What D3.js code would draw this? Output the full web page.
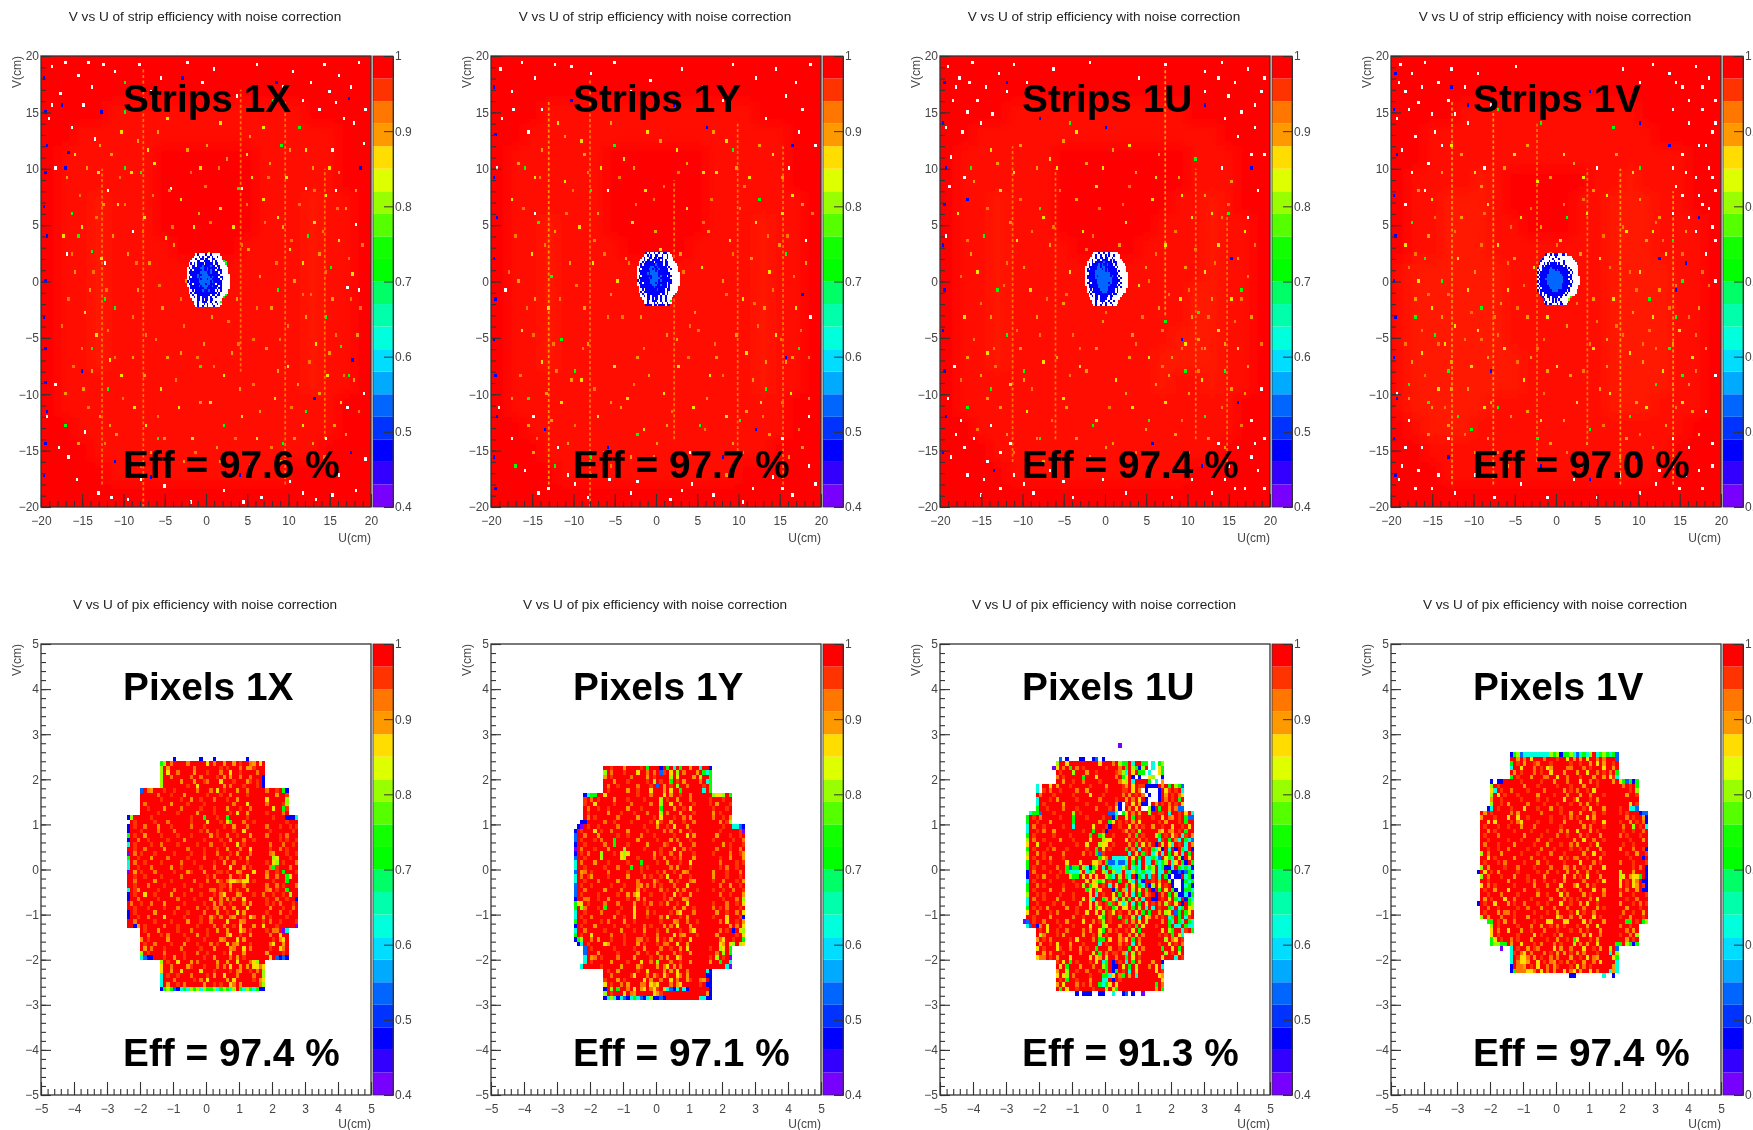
<html>
<head>
<meta charset="utf-8">
<style>
body { margin: 0; background: #fff; overflow: hidden; }
svg { display: block; filter: blur(0.55px); }
text { font-family: "Liberation Sans", Arial, sans-serif; }
</style>
</head>
<body>
<script src="https://d3js.org/d3.v7.min.js"></script>
<script>

// colour bar bands, lowest (0.4) to highest (1.0)
var paletteColours = ["#7700ff","#3300ff","#0000ff","#0033ff","#0066ff","#00aaff","#00ddff","#00ffdd","#00ffaa","#00ff66",
    "#00ff00","#11ff00","#55ff00","#99ff00","#ddff00","#ffdd00","#ff9900","#ff7700","#ff3300","#ff0000"];
var barTicks = [0.4, 0.5, 0.6, 0.7, 0.8, 0.9, 1];

// efficiency read for each map letter
var cellValues = {".": 0.985, r: 0.955, o: 0.925, a: 0.895, y: 0.865, l: 0.81, g: 0.72, c: 0.62, s: 0.53, b: 0.47, v: 0.41};

var panelLefts = [41, 491, 940, 1391];
var stripNames = ["Strips 1X", "Strips 1Y", "Strips 1U", "Strips 1V"];
var stripEffs = ["Eff = 97.6 %", "Eff = 97.7 %", "Eff = 97.4 %", "Eff = 97.0 %"];
var pixelNames = ["Pixels 1X", "Pixels 1Y", "Pixels 1U", "Pixels 1V"];
var pixelEffs = ["Eff = 97.4 %", "Eff = 97.1 %", "Eff = 91.3 %", "Eff = 97.4 %"];

// coarse mean level of the strip maps, 2 cm squares, top row is V = 18..20
var zones1X = ["00000000000000000000","00000000000000000000","00001111111111110000","00111111111111111100","01111110000001111100","01111110000001111100","01121110000001112110","01121110000001112110","01121111000011112110","01121111111111112110",
    "01121111111111112110","01121111111111112110","01121111111111112110","01121111111111112110","01111111111111112110","01111111111111111100","00111111111111111100","00011111111111111000","00001111111111100000","00000000000000000000"];
var zones1Y = ["00000000000000000000","00000000000000000000","00011111111111110000","00111111111111111100","01111110000001111100","01111110000001111100","01111110000001111110","01121110000001112110","01121111000011112110","01121111111111112110",
    "01121111111111112110","01121111111111112110","01121111111111112110","01121111111111112110","01111111111111112110","01111111111111111100","00111111111111111100","00011111111111111000","00001111111111100000","00000000000000000000"];
var zones1U = ["00000000000000000000","00000000000000000000","00001111111111100000","00111111111111111000","01111110000000011100","01111110000000011100","01121110000000112100","01121110000001112110","01121111000011112110","01121111111111112110",
    "01121111111111122110","01121111111111122110","01121111111111222110","01121111111112222110","01111111111112112110","01111111111111111100","00111111111111111100","00011111111111111000","00001111111111100000","00000000000000000000"];
var zones1V = ["00000000000000000000","00000000000000000000","00001111111111100000","00111111111111110000","00111111111111111100","01111210000011211100","01122210000112221100","01122211000112221110","01122211111112221110","12222221111112222110",
    "12222221111112222110","12222221111112222110","12222221111112222110","12222222111112222110","12222222111112222110","12222211111112221110","01222111111111111100","00111111111111111000","00011111111111110000","00000000000000000000"];

// faulty-looking strip columns: U, V from, V to, letter
var streaks1X = [[-7.6,-20,19,"o"],[4.2,-8,17,"o"],[9.6,-18,16,"o"],[-12.6,-18,10,"o"],[14.4,-14,10,"o"]];
var streaks1Y = [[-13,-18,16,"a"],[-8,-20,18,"o"],[9.9,-16,14,"o"],[15.4,-18,12,"o"],[2.2,-14,9,"o"]];
var streaks1U = [[7.3,-3,19,"a"],[-11.2,-16,12,"o"],[-6,-14,10,"o"],[11,-14,10,"o"],[14.8,-16,6,"o"]];
var streaks1V = [[-12.6,-18,16,"a"],[-7.6,-18,16,"a"],[-2.3,-16,14,"o"],[3.8,-14,10,"o"],[7.8,-18,10,"a"],[14.2,-18,8,"a"]];

// isolated strip bins seen on the maps: letter + column (0-199) , row from the bottom (0-199)
var specks1X = "w6,195 w14,197 w22,191 w30,186 w11,183 w25,178 w44,193 w59,196 w72,190 w97,188 w104,194 w118,182 w130,196 w152,193 w163,188 w171,196 w180,191 w187,186 w192,197 w178,179 w168,176 w4,172 w18,168 w32,163 w189,170 w195,161 w176,158 w8,150 w40,140 w78,141 w121,141 w160,141 w178,140 w55,122 w190,125 w192,96 w185,97 w38,108 w15,112 w3,40 w10,26 w21,12 w34,6 w52,3 w74,9 w90,2 w110,7 w133,4 w150,11 w166,3 w180,14 w190,7 w196,21 w172,30 w26,33 w8,54 w195,50 w185,44 " +
    "b1,190 b2,175 b3,160 b2,148 b1,133 b3,120 b2,100 b1,84 b2,70 b2,55 b3,42 b2,28 b1,14 b16,157 b14,150 b12,178 b36,175 b85,190 b142,188 b186,181 b193,150 b188,65 b165,48 b24,60 b44,20 b66,13 b120,14 b187,24 " +
    "g18,130 g22,120 g30,113 g38,92 g44,88 g50,150 g50,175 g50,188 g60,148 g119,141 g140,180 g145,160 g156,168 g161,120 g175,106 g172,84 g181,71 g30,70 g40,52 g14,36 g70,30 g110,36 g146,28 g160,42 g186,58 g96,62 g143,96 " +
    "y13,120 y24,124 y36,110 y46,134 y54,148 y62,128 y68,152 y75,119 y84,136 y92,124 y101,112 y108,132 y116,124 y127,146 y134,136 y143,128 y150,114 y158,108 y165,126 y172,138 y180,118 y188,103 y26,86 y33,76 y41,65 y48,58 y56,44 y63,36 y72,52 y83,44 y91,30 y102,46 y110,58 y121,40 y130,30 y141,48 y149,62 y158,36 y166,72 y173,58 y181,46 " +
    "a20,104 a29,96 a37,134 a43,120 a52,112 a58,96 a65,108 a73,88 a80,116 a87,100 a95,130 a103,84 a111,108 a118,92 a125,114 a132,102 a139,88 a146,124 a153,100 a160,84 a168,112 a176,92 a184,132 a191,76 a25,52 a35,40 a45,32 a55,66 a66,24 a76,66 a86,20 a98,72 a106,26 a115,68 a126,18 a136,70 a145,20 a155,54 a164,28 a174,68 a184,32 " +
    "o16,92 o23,138 o31,104 o40,78 o47,146 o55,84 o61,122 o69,74 o77,140 o84,92 o91,108 o99,142 o105,96 o113,82 o121,116 o128,74 o135,126 o142,108 o149,80 o156,134 o163,94 o170,122 o178,76 o186,110 o193,88 o19,62 o28,44 o38,28 o49,48 o60,18 o70,40 o81,56 o93,24 o104,62 o117,30 o128,54 o139,26 o151,44 o162,64 o171,22 o183,58 o192,42 w28,197 w88,197 w146,186 w174,184 w6,178 w37,196 w66,184 w158,180 w183,172 w196,176 w16,22 w42,4 w60,12 w122,2 w158,6 w176,5 " +
    "o12,80 o18,112 o24,70 o33,128 o39,96 o44,66 o50,134 o57,108 o63,76 o67,138 o71,98 o79,124 o86,80 o90,148 o94,66 o102,126 o107,150 o112,100 o119,72 o124,134 o130,88 o137,146 o144,74 o151,118 o158,94 o165,140 o172,104 o179,132 o187,92 o194,116 a14,50 a22,28 a30,60 a41,36 a52,22 a62,58 a74,30 a84,68 a96,46 a108,20 a120,52 a132,42 a143,60 a153,30 a168,50 a177,36 a189,56 a15,146 a27,150 a35,160 a42,156 a58,162 a70,166 a88,158 a100,160 a112,154 a126,164 a138,152 a150,158 a164,150 a180,148 a190,140 y20,156 y34,148 y48,166 y64,158 y76,172 y96,150 y108,170 y124,156 y134,168 y148,146 y160,158 y174,150";
var specks1Y = "w5,194 w18,197 w26,190 w38,196 w12,184 w60,192 w74,197 w96,189 w115,194 w128,186 w146,196 w160,190 w172,194 w184,188 w193,196 w178,182 w188,176 w6,172 w22,166 w196,160 w3,150 w180,150 w26,130 w70,140 w190,118 w8,96 w193,84 w4,44 w12,30 w20,16 w34,8 w46,14 w58,4 w71,12 w84,6 w96,16 w108,3 w121,10 w134,5 w146,16 w158,8 w170,13 w182,5 w192,18 w176,30 w25,40 w192,40 w40,26 w120,24 " +
    "b1,186 b2,165 b1,146 b3,128 b1,110 b2,92 b1,74 b2,58 b3,40 b1,22 b2,8 b48,180 b110,178 b130,168 b182,160 b140,22 b70,26 b160,34 b32,34 b178,66 b188,94 " +
    "g20,150 g28,126 g36,102 g42,74 g50,60 g22,48 g60,140 g74,160 g92,172 g124,176 g146,158 g162,136 g178,112 g186,70 g166,52 g150,38 g126,36 g88,32 g60,22 g14,18 g38,18 " +
    "y12,136 y24,112 y34,88 y44,144 y53,124 y61,108 y66,150 y76,100 y85,126 y93,140 y102,114 y110,96 y118,132 y127,106 y136,148 y144,118 y152,92 y160,126 y168,104 y176,130 y184,88 y18,78 y30,64 y42,46 y54,56 y64,40 y74,62 y82,48 y92,34 y104,50 y113,62 y122,44 y132,58 y142,40 y154,68 y163,46 y172,76 y181,50 " +
    "a16,100 a26,92 a38,122 a47,108 a56,88 a64,130 a72,94 a81,110 a90,84 a99,122 a106,76 a114,112 a123,86 a131,122 a140,100 a148,76 a157,110 a165,88 a174,116 a182,66 a190,108 a22,36 a33,50 a46,28 a58,72 a68,24 a78,44 a88,66 a100,28 a112,74 a124,24 a136,66 a146,28 a158,56 a168,32 a178,64 a188,26 " +
    "o14,120 o21,88 o29,146 o37,72 o45,130 o51,98 o58,148 o68,112 o79,84 o87,134 o95,98 o104,142 o116,104 o125,78 o133,136 o142,94 o150,132 o161,80 o170,96 o179,120 o187,78 o194,130 o17,58 o27,30 o39,60 o50,36 o62,52 o72,18 o86,54 o98,22 o109,42 o119,66 o129,34 o140,58 o152,24 o164,40 o176,46 o186,34 w30,176 w48,195 w84,184 w140,180 w166,172 w186,166 w13,176 w28,6 w50,10 w88,11 w115,7 w152,2 w176,8 w196,10 " +
    "o10,104 o19,132 o25,76 o32,116 o41,92 o49,140 o55,70 o62,118 o70,84 o77,146 o83,108 o92,70 o98,136 o107,90 o113,148 o120,80 o128,126 o135,72 o146,112 o153,142 o159,90 o167,120 o175,74 o183,102 o192,66 a12,48 a25,24 a36,38 a48,56 a60,14 a72,46 a84,22 a95,58 a106,36 a118,16 a130,48 a142,14 a154,42 a166,64 a180,22 a192,48 a16,152 a30,158 a44,164 a56,156 a72,170 a86,150 a102,162 a118,152 a134,166 a148,150 a162,160 a176,146 a188,134 y26,146 y40,170 y54,162 y80,154 y94,166 y112,158 y128,148 y142,162 y156,146 y170,156 y182,138";
var specks1U = "w4,195 w11,190 w19,197 w27,186 w7,180 w35,192 w16,175 w3,168 w24,170 w44,196 w52,188 w68,194 w90,197 w120,190 w136,196 w150,186 w160,193 w170,197 w178,188 w186,194 w194,184 w182,175 w190,168 w172,172 w196,156 w6,155 w14,146 w192,140 w186,128 w3,120 w170,150 w8,62 w4,48 w12,38 w20,30 w6,22 w16,14 w28,20 w36,8 w24,5 w44,14 w56,6 w66,16 w80,4 w98,12 w112,6 w126,16 w140,4 w152,12 w164,6 w174,18 w184,8 w192,16 w180,26 w196,30 w188,38 w194,52 w168,28 w150,24 w30,36 w42,28 " +
    "b2,188 b1,170 b3,150 b2,134 b1,116 b2,96 b1,78 b2,60 b3,40 b1,24 b40,188 b16,136 b160,178 b188,150 b176,110 b146,74 b180,46 b32,16 b70,24 b128,28 b158,18 b60,172 b100,168 " +
    "g18,150 g26,120 g34,96 g40,76 g50,60 g16,44 g60,132 g78,170 g140,176 g154,154 g174,130 g182,96 g172,60 g160,40 g126,38 g92,36 g60,30 g30,52 g136,82 g156,86 g148,60 " +
    "y10,130 y22,104 y36,140 y46,118 y54,96 y62,128 y70,150 y78,104 y86,122 y94,142 y102,108 y112,126 y120,98 y128,136 y136,116 y145,92 y152,128 y160,104 y168,116 y176,92 y184,122 y14,84 y28,68 y42,54 y52,42 y62,64 y74,48 y84,62 y94,38 y106,56 y116,44 y126,66 y136,46 y148,72 y158,56 y168,78 y180,70 " +
    "a18,112 a30,84 a42,126 a50,106 a58,84 a66,116 a74,90 a82,136 a90,108 a98,82 a108,116 a116,76 a124,106 a132,88 a140,66 a148,106 a156,74 a164,92 a172,72 a180,110 a188,84 a24,58 a36,44 a48,70 a58,30 a70,66 a82,30 a94,70 a104,28 a114,66 a130,54 a142,32 a152,84 a162,30 a176,52 a186,62 " +
    "o12,102 o20,74 o28,132 o38,98 o46,78 o55,122 o64,92 o72,140 o80,76 o88,114 o96,132 o106,92 o114,142 o122,84 o130,112 o138,94 o146,70 o154,114 o162,84 o170,128 o178,82 o186,102 o194,72 o12,56 o22,34 o33,62 o44,24 o55,52 o67,38 o78,58 o90,22 o102,44 o118,24 o134,62 o146,38 o156,60 o170,44 o182,36 w9,186 w22,180 w31,174 w13,166 w5,142 w17,188 w40,184 w174,182 w168,190 w190,178 w196,190 w180,164 w188,156 w160,184 w9,32 w26,12 w14,26 w36,24 w50,10 w74,11 w190,28 w178,8 w172,12 w196,8 w188,22 " +
    "o16,118 o24,90 o32,70 o40,108 o48,136 o60,76 o68,124 o76,94 o84,70 o92,120 o100,86 o110,134 o118,72 o126,100 o134,78 o142,122 o150,96 o158,70 o166,108 o174,134 o182,92 o190,116 a16,66 a28,48 a40,32 a50,56 a62,20 a76,44 a88,60 a100,26 a112,50 a124,34 a138,58 a150,50 a160,70 a172,26 a184,50 a20,144 a34,152 a48,160 a58,150 a74,162 a88,152 a104,158 a118,148 a132,156 a144,146 a160,138 a176,144 y30,158 y44,148 y66,154 y82,166 y98,150 y114,160 y130,146 y146,138 y164,130";
var specks1V = "w5,196 w12,192 w20,197 w28,188 w36,194 w8,184 w16,179 w24,174 w3,172 w34,180 w44,186 w52,192 w14,164 w6,158 w30,160 w46,170 w60,178 w75,195 w140,194 w150,188 w158,196 w168,192 w176,186 w184,195 w192,190 w196,180 w188,176 w180,170 w170,176 w194,166 w186,160 w176,156 w192,150 w184,146 w170,150 w196,140 w188,134 w176,138 w194,124 w184,122 w170,130 w190,112 w196,100 w8,134 w20,140 w56,150 w124,150 w3,50 w10,38 w18,26 w6,18 w28,14 w14,8 w38,6 w50,14 w62,4 w78,10 w94,4 w110,12 w124,4 w138,14 w150,6 w162,16 w174,8 w186,16 w194,28 w180,26 w190,42 w196,58 w34,30 w170,30 " +
    "b2,192 b1,176 b3,156 b1,138 b2,120 b1,100 b2,84 b1,66 b3,48 b1,30 b2,14 b36,186 b46,178 b120,184 b150,170 b168,160 b186,128 b178,108 b172,96 b60,60 b34,22 b90,18 b120,12 b148,22 b162,110 " +
    "g12,126 g20,110 g30,100 g14,84 g26,76 g34,60 g10,54 g22,46 g40,40 g48,34 g64,44 g64,176 g90,170 g110,180 g134,168 g150,150 g170,118 g176,100 g172,84 g168,70 g176,58 g160,54 g144,40 g120,34 g88,30 g54,88 g106,128 g156,92 " +
    "y8,116 y16,100 y24,88 y32,72 y40,110 y46,96 y52,78 y58,134 y64,116 y70,96 y78,128 y86,106 y94,84 y102,118 y110,100 y118,130 y126,110 y134,92 y142,122 y150,104 y158,84 y166,112 y174,78 y182,66 y18,68 y28,52 y38,80 y48,62 y56,44 y68,70 y80,56 y90,38 y100,62 y112,46 y122,70 y132,50 y144,68 y154,44 y164,60 y176,46 y186,32 " +
    "a14,92 a22,120 a30,84 a36,64 a42,128 a50,104 a58,66 a66,90 a74,110 a82,84 a90,124 a98,100 a106,80 a114,112 a122,92 a130,74 a138,108 a146,86 a154,118 a162,96 a170,72 a178,122 a186,88 a12,64 a24,44 a34,36 a46,52 a58,30 a72,40 a84,66 a96,28 a108,58 a118,28 a130,62 a142,30 a152,64 a166,36 a180,54 a190,70 " +
    "o10,106 o18,78 o26,128 o34,94 o44,74 o54,116 o62,84 o72,124 o80,98 o88,70 o96,112 o104,134 o112,90 o120,72 o128,120 o136,80 o144,104 o152,72 o160,126 o168,88 o176,112 o184,76 o192,98 o8,72 o20,58 o32,44 o44,32 o54,74 o64,24 o76,64 o92,50 o106,24 o116,60 o128,36 o140,76 o150,32 o160,70 o172,44 o184,60 w10,176 w18,186 w26,166 w38,174 w4,188 w22,152 w12,148 w180,180 w172,188 w188,186 w196,170 w190,160 w178,148 w186,138 w194,146 w180,128 w192,132 w172,142 w196,118 w8,26 w16,16 w24,8 w4,12 w188,8 w178,14 w194,18 w160,10 " +
    "o14,112 o22,94 o28,72 o38,122 o48,86 o56,130 o64,76 o70,108 o76,88 o84,132 o92,74 o100,116 o108,94 o116,136 o124,82 o132,106 o140,124 o148,96 o156,78 o164,118 o172,98 o180,84 o188,104 a10,48 a22,32 a36,52 a50,24 a60,46 a70,18 a82,42 a94,60 a104,38 a114,18 a126,52 a138,22 a148,46 a158,26 a170,54 a182,42 a16,140 a30,148 a42,156 a54,142 a68,150 a82,160 a96,146 a110,152 a122,140 a136,156 a150,136 a162,128 y24,136 y36,160 y50,148 y74,156 y88,144 y104,156 y116,146 y130,138 y146,148 y158,122";

// central hole of the strip maps, 0.2 cm bins, w = empty bin
var holeOrigin1X = [-2.3, 2.5];
var hole1X = ["     wbwwwwbwwbwwwww      ","    wwwbwbwwbbwbwwbww     ","   wwbwwbbwbbwwbbwwww.    ","  wwwwbbwwbbbbwbwbwwwwg   "," wbwbwbbbbwbbbbbwbbwwwwg  "," wwbbwbbbsbbbbsbbwbbwwww  ","wbwbbbbbssbbsbbbbbwbwwwww ","wwbwbbbbbsbbsbsbbwbbbwwww ","wbbbbbbbssssbbsbbbbwbwwww ","wwbbbbsbbssssbbbbbbbwwwwww","wbwbbbsbssssssbsbbbwbbwwww","wbbbbbbsbsssbssbbbbbwbwwww","bwbbbbbsssssssbsbbbbbwwwww","wbbwbbbbsssbssbbbwbbbwwwww","wwbbbbbsbssssbbsbbbwbwwwww"," wbbbbbbbbssbbbbbbwbbwwwww"," wwbwbbbbsbbbsbbbwbwbwwww "," wbwbbbbbbbbbbbbbbwbwwwww ","  wbwwbbbbbbbbwbbwbbwwwg  ","  wwbwbbwbbbbwbwwbwwwwg   ","   wwwbbwbwbbwbbwwwww.    ","   .wwbwwbbbwwbwwbwwg     ","    wwbwwwbwbwwbwwbww     ","     wbwwbwwbwwwbwww      "];
var holeOrigin1Y = [-2.3, 2.6];
var hole1Y = ["     bwbwwbwwbwwbbww      ","    wwbwbwwbbwwbwwbww     ","   wbwwbbwbbwbbbwwbwww    ","  wwbwbbwbbbbbwbwbwwww.   "," wwbwbbbbbwbbbbbwbbwwww   "," wbwbbbbbbbsbbbbwbbwwwww  ","wwbbbbbbssbbsbbbbbwbwwwww ","wbwbbbbssbsbbsbbbbbwbwwww ","wbbbbbbbsssbsbbbbbbwwwwww ","wwbbbbsbsssssbbbbbbbwwwwww","wbwbbbbbbssssbsbbbwbbwwwww","wbbbbbbsbsssssbbbbbbwwwwww","bwbbbbbbsssssbsbbbbbbwwwww","wbbwbbbbsssbsbbbbbwbbwwwww","wwbbbbbbbsssbbsbbbwbwwwwww"," wbbbbbbbbsbbbbbbbwbwwwww "," wwbwbbbbbbbsbbbbwbbwwwww "," wbwbbbbbbbbbbbbbwbwwwww  ","  wbwwbbbbbbbbwbbwbwwww   ","  wwbwbbwbbbbwbwwbwwww.   ","   wwwbbwbwbbwbwwbwww     ","   .wwbwwbbbwwbwwbwwg     ","    wwbwwwbwbwwbwwbww     ","     bbbbwbbwbbbbwbb      "];
var holeOrigin1U = [-2.4, 2.6];
var hole1U = ["     wwwbwwbwwbwwwww      ","    wwbwwbwwbwbwwbwww     ","   wwwbwwbbwbbwwbwwww.    ","  wwbwwbbwbbbbwbwbwwww    "," wwwbwbbbbbsbbbbwbbwwww   "," wbwbbbbsbsbbsbbbwbwwwww  ","wwbbbbbssbssbbbbbbwbwwwww ","wbwbbbbsssbsbsbbbbbwwwwww ","wbbbbbssssssbsbbbbbwbwwww ","wwbbbbsssssssssbbbbbwwwwww","wbbbbbsbsssssssbsbbwbwwwww","wbbbbbssssssssssbbbbwbwwww","wwbbbbbsssssssssbbbbbwwwww","wbbwbbbsssssssbsbbbbwbwwww","wwbbbbbbsssssssbbbbwbwwwww"," wbbbbbbssssssbbbbbbwbwwww"," wwbwbbbbsssssbbbbwbwwwww "," wbwbbbbbbsssbbbbbwbwwwww ","  wbwwbbbbbbbbbbwbbwwww   ","  wwbwbbwbbbbbwbbwwwww.   ","   wwwbbwbbbbwwbwwwww     ","   .wwbwwbbbwwbwwbww      ","    wwbwwwbwbwwbwwww      ","     wbwwbwwbwwwbww       "];
var holeOrigin1V = [-2.3, 2.5];
var hole1V = ["     bwwbwbbbwwbbw.       ","    wwwbwwwbwwwwwwwww     ","   bwwwwwbwwwbwwwwwwww    ","  bwwwwbwwbwwwwwbwwwwww   "," bwwbwbwbbbbwbwwbwwwwwww  "," wwbwbbbbbbbbbbbwbwwwwwww ","bwwbbbbbsbbbbbbbbbwbwwwww ","wbwbbbbssssbsbbbbbbwbwwww ","bwbbbbbsssssssbbbbbbwbwww ","wbbbbbsssssssssbbbbwbwwww ","bwbbbbssssssssssbbbbbwwwww","wbbbbsssssssssssbbbwbwwwww","bwbbbbssssssssssbbbbwbwwww","wbbbbbsssssssssbbbbbbwwwww","bwbbbbbssssssssbbbbwbwwww ","wbwbbbbbsssssssbbbbbwwwww ","bwbbbbbbbssssbbbbbwbwwww  "," wbwbbbbbbbbbbbbbwbwwwww  ","  bwbwbbbbbbbbbbwbwwwww   ","  .bwwbbwbbbbwbwwwwwg     ","   .bwwbwbwbwbwwwwwl      ","    wbwwwbwbwwbwwww.      ","    .bwbbwwwbwbbww.       "];

// pixel maps, 0.1 cm bins: first U and first V, then rows as "left part|right part".
// The left part starts at column 0, the right part ends at the column in the ends list
// ([first row, last column]), and the bins between them come from the matching middle entry.
var pixOrigin1X = [-2.4, 2.5];
var pixEnds1X = [[1,41],[7,48],[13,51],[38,48],[45,41]];
var pix1X = [
"              b       b   b         b",
"          gl.o....o.....y.o..a|.oa.y.",
"          l.a.......o.......r.|ar...",
"          l.y..o....a...r...o.|.o..",
"          l..o.....o..o....r.a|o...b",
"          l.....a...a..ro...y.|r.r.b",
"          l.......r..y.......a|.r.b",
"    s.oa...r..r......o...o.y.|..o..r.gb",
"    .....o...r...a......r...r|...a..r",
"    ......r.....r..a..r...o..|y.....l",
"    .o.......a....r....r.....|o....rl",
"    ..r....a....o.....r...r..|..y..gr",
"    .....r.....r.....a....r..|r....o.",
"bl.....r...........r...g...r.|...r...bbbc",
" .r.....r...o......r....y...r|.......r...",
"b.r..o...a...r.....o...r.....|.o...r..r.r",
"b...r....o....o.......r.o..r.|..r......r.",
"g.r..a....r....r...r.....a.r.|.o...r.o...",
"b..o..r.....r....a.....r....r|.....r.r..r",
"c.r....r..o....r.....r...o...|..o...o..r.",
"..r..o.....a......o....r...r.|..r..o.r...",
"v.o.r...r.....r....r...r...o.|..oa...r..r",
"g..r...a....o.....r....o....r|...ly...r..",
"c.o..r....r.....o...r.....r..|.r.yl.r...o",
"c..r...o.....a..r.....r...o..|..ogr...o..",
"v.a.r...o.....r...ar...a...rr|.o..r.g...r",
"..r..r....r.....o.......r.o..|.a..o..gy..",
"..o.....a....r......o...o..ar|...r...g...",
"..r...o....r.....r....r.....r|.o..o.r...o",
"c.ra.....r....o....o.....oo.r|.oa.r..g...",
"b.r..y..r....a...r....r...r.o|o..r..r.l..",
"b..o.....r.....o....r....a..o|.r..o..r..b",
".o..r..o...a.....r.....r..a.o|.r.r.o...r.",
"..r...r....r...o.....o..r.oo.|..a...r..o.",
"b.r.....a.....r...r....o...a.|.r...o..r..",
"b..r..o....y.....r....r..ar.o|a.r....r...",
"..o.....r....r....a...r..o...|r.o..r....r",
"..ba.r.....o...r.....r....o..|y...r.....v",
"    .r...a.....r...o....r..a.|..r.oo.vc",
"    ..o...r.o....r...a..r....|.o..y..",
"    a.r.....a.....r....r....a|..r.ay.",
"    .r..o....r...a...r...o.r.|.oy..a.",
"    .a.o...r....o.....r...a..|.r..yo.",
"    l.r....o.....r...o..r....|a....r.",
"    csbb...r..a..r.....r..a..|..y.sbsb",
"          l.r..y...a.o.....a.|..oyl..",
"          y..o....ar...r...o.|.a.yyoy",
"          y..a..y.....y...r..|.r.o.l",
"          c.r..r...o....r.a..|..o..l",
"          c...o.....r.o.y....|..r.ay",
"          c.a..r.o.....a..r.r|...ol",
"          bglgsbcgclglclgglcg|clgcgbb"];
var pixMid1X = ("x ..a.r..o. r...o.a.. .y..r... .a..o..r. ..r...a.. .o...r... r...a..o.. ..o....r. .r..a.... ...o...y. .a...r..o ..r.y..a. .g.....r... .yg...o..r. r..a...o.. ...r..y... .o..r...a. ..a...o..r r...y.r... .a...o..y. ..r.a...o. .o...r.a.. a..o...r.. ..y...a.r. .r..ao...y ..a..r.y.. .oyyaoyy.r r.a...o... ..o.r..a.. y...ao...r .a.o..y... ..r...o.a. o..a...y.. .r..y.a... ..oa..r.yo .y...ao... o..r.y...a .a...yo.r. .ay..r..a. o...y.a... .y.oa...r. ..ao..y.o. r.y...a... ..o.a.r... .a..y.. o.y..a. ..r.oa. y...o.. .a.y... ..yo.a. lgcl.gc").split(" ");
var pixOrigin1Y = [-2.6, 2.3];
var pixEnds1Y = [[0,42],[6,48],[13,52],[40,48],[45,42]];
var pix1Y = [
"          ..r...a....r.g...b.|a..c..b",
"          l.o...r...y..o.o.sr|..a.gcg",
"          a.r.....o....a.r...|a.l..g",
"          ...a...r.....r.l.r.|..o.cg",
"          .o..r.....o...r.s.a|..r.g",
"          .r.....a..r...y...a|..c.g",
"    bcgg..y.........r...o...y|.lyyl.g",
"    r.o.r....a...r....r....l.|r...r..",
"    r..y.....r....o.....o..l.|r.a...r",
"    .o..r..r.....a...r.....g.|r...r.",
"    .r.....a...r...r...o...l.|a.r...",
"    .o.r......o.....a....r.y.|o..r.a",
"   bb.....o..r....r.....r.yr.|..a.rl",
"  bv.r..r.....o.......r...a..|..r..ccsb",
" b.r...y.r..o....a.....r....o|..r.....rv",
" s..o...a.....r..r...o...r...|.a...r..r.",
" s.r...r.o...g......a.....r..|r.....r..o",
" b..r.....o..g...r.....a....o|...a.r...r",
" v.o...r...a....l.....r....r.|.o...r..o.",
" b.r.o...l...r.yly.......a.r.|r....o..ra",
" s..r....l.....yl...r....o..a|..r..a...a",
" c.o...a...r.....r...g....r..|..o....r.r",
" c..r.....r...o...g..r.r.....|..r.o..r..",
" s.ao.r....o.....r...r....r.o|a...r...o.",
" c.o.ra....r.....a....o.r..r.|a...r...r.",
" c..r...o.....a.....o....ar..|r..o...r.a",
" s.r..r.....r...r...oa.o.o.r.|..o..a..r.",
" s..o.....a....o....a.r....o.|r..r..o..r",
" s.r....r.....r..a.ay...r...r|..o..r...a",
" b..oo..r..a.....r..a.o.....r|...r...o.l",
" gyy.r....o...o....a..r.o..r.|r...o..r.y",
" g.lo...r.g....r...y...r.....|o.r.o...r.",
" c..r....o....r....y...o.r...|.a..r..o.y",
" c.r..o......a..r..y...r...o.|r...y...rb",
" g..r....r.o....a..r.......r.|..o.y..r.a",
" b.r...a.....r...r....o.r...a|.....a.o.y",
" c..o.....r....a...r..a...r..|..o.r.b.yl",
" g.r..y.....o...r.....r...o..|.a.....r.y",
" bgl..o.a...r...r...oo.r..a.r|..oy..r..g",
"  bc.r....ya....r...a.r...r.o|.ya.yl.ly",
"    s.r......r.....r..a....o.|r..ly.g",
"    s...a.....r.....o..r..a..|..o.l.g",
"    c.ao.r....o....a....r..o.|r.l.r.v",
"    c.r.....a....r...y..o.l..|a..g..c",
"   c.....r.....a....ar....a.o|.....cv",
"          .r..a.....r..y....a|..cb",
"          ..o.....ry...o.ar.y|..bb",
"          r...a.r.....y.a..o.|oa.b",
"          y.r..o.a...oo.yay..|.r.bb",
"          b.l.g..o.y.ay.oyr.y|...b",
"          l.r...y.oa.....yar.|..ab",
"          bclcbcsbcgcsbclbbsb|ccbb"];
var pixMid1Y = ("g.c.g.. .y.l.o. .l.y.. .g.r.a. .r.l..o .y..g.. .a..r..o. r..a...o.. .y..o...r. ..a..r.y.. o...a...r. ..r..o.a.. .a...r..o. r.y...a... .o..a..r.. ..r...y.a. .a.o...r.. r...a...o. ..y..o.r.. .o..a...r. ..r.o...a. a...r..y.. .o.a...r.. ..r..ao... y...o..r.. .a.r...oa. ..o...y... r..a.o...r ..y.r..a.. .o...ao... a..r..y... ..o..a..r. .r.ay...o. y...r.a... ..ao..o..r .o.y...a.. a...r..oy. ..y.oa...r .a..r..y.. o..y..a... .r..a.y... ..o.r..a.. a..yo.... .o..r..a. y.a.o... .a.y..o. r..yo.a. .y.o..ar .o.ay... csbc.cb").split(" ");
var pixOrigin1U = [-2.5, 2.8];
var pixEnds1U = [[4,42],[9,48],[15,51],[42,48],[48,42]];
var pix1U = [
"                             v",
"",
"",
"           s b   bb  bs b",
"          l..y.........y...o.lg|.gg c gl",
"         vy.o.g.o.r......r...o.|gbl. c yg",
"          .r...l...a..r.....rol|gg c  yg",
"          o.r.....g...y.....o.g|b b  yl  b",
"          ..a..r..o....r.....oy|.g c a",
"    c ..y.a...r.....r....a....r|rbbbb.a.g.lgs",
"    c r.o..r....o..a.....r....r| b   b.yr.r.c",
"    .o...r.....r....y...r.....o|o b  b.a.r.oy",
"    c...r.a.....r......o....r..|.b   b.o.r.g.",
"    c.r.....a......r.....r..ob |bb .a.r.o.r.y",
"    g..r....o...r.....o...r.yb |  lb.g..a.oss",
"  cggs...r.....l.r........ssc g|..l..rr.c..r.y.c",
" g.r.o.....r...g...r....r..bg..|..r..y.oa.r.gss",
" g..r...a......g.......a..gy.r.|....r.a...r.g..",
" c.o..r.....r..c.....y...rb..r.|..a..r..y..r.y.",
" c..r.o..a........r..g..rb....r|....ay.oa.r.g..",
" g.r.....r....r.....g..gl..r...|...lg.r.yr.cr.a",
" l.o..r....a...r....y...lyy....|r...cr.g.oc.gcs",
" y..y...r.......r..y...lyy.r...|.o.b.l.yc.r.c.a",
" g.r...r.o...r.....r..g.y.r....|r.gcyb.c.b.gc.b",
" l..a.r.....o.....o.r.gsr......|r.cy.c.g.y.c.g.",
" y.r..r.a...r..........gyo.cccc|ccgcs.ygc.lb.y.",
" g..o...r....y...y...yyo.gsscss|cc.gcgl.cy.gb.g",
" g.r..r...o..gsgg.lcbgl.c.gcccl|lgl.cgbbc.gcgcb",
" b.o....r..r.gcccl.cgl..lc.lcc.|cl.cc.gbbsbsgc",
" b..r.a...r...lgg.y.y.y..lgc.l.|.cr.c.gb bb.cgb",
" c.r....r......r...y.ylgl.r..g.|.r.a..lb  bgcg",
" g..o.r.....r...r.l.gyy.r.c.y..|bl.y.r.b  bcgb",
" g.r....a...o......gy.gy...bg.a|.b.g.y.gb bggc",
" l..r.r....r...r....y.c.r..y.g.|r.b.o.g.lbbcbg",
" c.o..r...a....r..y.lc..ga.yc.l|.bb.r.y.gc.bgc",
" c..r....r..o....a..y.lr.rgr.yc|.r.o.lr.y.b.gl",
" g.r.r.a.....a..r...y.gy.r.gl.y|.c.r..gc.cg.yl",
" y..o...r.o.....r..y..y.l.ry.r.|g..a.ly.sg.gy.",
" ..r....a......o..r....yg.r..g.|a.o.r.cg.g.cr.",
"vs.r..o...r..a....y..o.rl.r...r|...a.gc.gc.gc",
" cs.bo.y...r...r....y...ly...a.|.r...g.cc.gcc",
"    .r.y..r..o....o.a..yg.o.r..|y.lg..cr.g",
"    .lo...r.a.....a..r.l.r...a.|r.r.g.yc",
"    a.r.o.....r.y....o.gg.y..ar|..l.oy.r",
"    .a..r.y...a...r....c.r...o.|r..y.r.o",
"    y.r...yr..o..a.r..g...a..r.|.g..y.g.",
"    ..a.o...r....o...y.g.o.rr.a|.l.r.y.",
"    yoo.r.a...y.....y.ya.l..o..|y...c.r",
"          r.y.g.r...r.y.cg.b.r|.a..b",
"          .y.g...a...o..lg.bb.|o.y.c",
"          a..l..r..o...r.g.bg.|y.r",
"          y.yl.o....r...ggcy.o|.ya",
"          .r.g..r...a...cc.b.r|..y",
"          a.y...o.r.o..gcgy.y.|g.o",
"          .g.y..r....r...l.yg.|a.g",
"                b bbb  bb  c  bs b  v"];
var pixMid1U = ("x x x x g.c g.l c.y y.g l.c a.y.r.c.g.l.r r.y.o.a. .a.r.o.r. a.o.y.. r.y.a.. .o.y.r. y.o.a.. l.g.r.a. r.a.y.o. .y.o.r.. a.r.l.y. .o.g.r.a y.r.o.. .a.g.y.r g.o.c.a .c.y.g.r l.y.g.o c.g.c.l g.cgc.y cclgcgc gc.bgcl .lc.cb. g.y.gc. c.l.y.g y.c.g.a .g.y.c. l.c.g.y y.g.l.c .a.y.g. r.l.c.y g.a.y.l .r.g.y. r.y.g.. .a.l.o. y.g.o.. r.c.a.. .g.y.o. c.l.a.. g.y.r.. .c.g.a. y.g.l.. r.c.y.. g.a.c..").split(" ");
var pixOrigin1V = [-2.4, 2.6];
var pixEnds1V = [[0,42],[6,48],[13,51],[38,48],[43,42]];
var pix1V = [
"          bglscccccccclglbgglcs|glgcgs",
"          ..a.o.y...o...r..y.a|o...s",
"          g.r.a..ro...r.....r.|a..r.",
"          c..y...o.r.ya....oo.|y..a.",
"          .a.r...o.r..y...a...|r.o.g",
"          g.r...a...oo..y..o..|a.yrc",
"    b bb.....r.....r...a...o..|.a.ygsgbg",
"    l.r.......a...r.....r...r.|.o.r.g",
"    yc.r..o....r....o.....a.r.|..r.l",
"    l.y.r...r.....a....r...o..|.a..r",
"    a..r.....r....r..r....y..r|.....",
"    l..r.a.....o....r...r...r.|..y.r",
"   bc.r...r...y...r...a..r....|.r..ccs",
" .a.r.....o.a......o.....r..a.|.r.r...bss",
" a...r...y..y..r......r...r.o.|...o.r..ab",
" ..y.y....r.oy....r...r...a...|r..a.r.ob",
" .r...r..r...a...o.......r....|.o..l.r.c",
" ..a.r.....r....r....r...o.a..|.r..r..o.",
" .r...o.......a....r....o..r..|o.r...r..",
" ..r.....r...r....o...r......a|...r...a.",
" .o...r....a.....r...a...r..o.|.r..r....",
" ..r..r..o.....r...o...r....r.|a...o..rb",
" l.o...a.....r....r...o...r...|..r..a..r",
" ..y.r.....a....o...r....a.r.o|...r...b.",
" .r...r.o.....r...a..r....r...|o...r...r",
" l.a....r...o....r....o...ao.a|....r.o.b",
"b.y.r.a.....r.....r..o..r..a..|l...a...b",
" l.o...r...a...r....a.....y..a|ly.ayyg.b",
" ..r.....a.....r.o..r..r..a...|y.r.yo.bb",
" y.o.r.....r.....a...o...y...o|y.r.ya.rb",
" .r..a...y....o...r.....a.r...|r.o..a.bb",
" ..r...o....r.....a..r...y.o..|a...r...r",
" .a.r...y..o....r.....o...o.r.|..r..o...",
"b.r..y...a.r..o...r..r...y..r.|a...r.o.r",
" ..o..r.....r..o...a...o...o..|..a...r..",
" .r...a.oo.r.....r...r..a...r.|.o..r..a.",
" l.a...o...r...a...r....yo..o.|r..a...r.",
"   gg.r.a..o.....r...yy...yy..|..gg.r.gl",
"    l.r.....r...o..a..r.o.r...|o..r..",
"    y.o..y...a..r...o...r...r.|..o.a.",
"    y.r.....r....y.r...r.a....|r..o.l",
"    gy.r..o.r...a....r..a..r.g|.a.r.",
"    gllgg.a..y...r.o...o.r...l|gg.lgbg",
"       v  c.r..a.ro....y.a..o.|l.s",
"          cr.oy.o...o.r.a.a.r.|c.l",
"          c.ryyo.a.r..o.o...a.|.yg",
"          c.oyya..y.r.oa.r.o.r|..c",
"          b.ooa.r.y..o.ar...r.|.ac",
"          bgoooyyo.y.o.a..y.oy|cac",
"                            bb        c  b"];
var pixMid1V = ("cgcl.c .a.y..o .r..a.y. ..o.r... a..y..o. .r...a.. .y..o.r. ..a...r.. o..r.y.. .a..o...r y...r.a.. .o.a..r.. ..r.y...a .a...o..r r..y.a... .o...r..y ..a.o...r y...a.r.. .o.r...a. ..y..o..r a...r.y.. .r.o...a. ..a..y..r o..r...a. .y...o.r. ..r.a...y a..o..r.. .r.y...a. ..o...r.y y..a.r... .o...y..a ..a.r...o r...o.y.. .a.y..r.. ..o...a.r y.r..o... .a...y.r. ..y.o...a r..a..y.. .o.r...a. ..a.y..o. y...r.a.. .o.a..y.. ..y..r.a. a.o...r.. .r.y.oa.. ..a..o.y. y.o.r... .a..y.o. ").trim().split(" ");

var plotWidth = 330, plotHeight = 451;
var stripTop = 56, pixelTop = 644;

var colour = d3.scaleQuantize().domain([0.4, 1]).range(paletteColours);

var svg = d3.select("body").append("svg").attr("width", 1753).attr("height", 1130);
var defs = svg.append("defs");
defs.append("filter").attr("id", "soft").append("feGaussianBlur").attr("stdDeviation", 7);
defs.append("clipPath").attr("id", "plotClip").append("rect").attr("width", plotWidth).attr("height", plotHeight);

stripNames.forEach(function (name, i) {
    var maps = [
        [zones1X, streaks1X, specks1X, hole1X, holeOrigin1X],
        [zones1Y, streaks1Y, specks1Y, hole1Y, holeOrigin1Y],
        [zones1U, streaks1U, specks1U, hole1U, holeOrigin1U],
        [zones1V, streaks1V, specks1V, hole1V, holeOrigin1V]][i];
    drawStrips(panelLefts[i], name, stripEffs[i], maps);
});
pixelNames.forEach(function (name, i) {
    var maps = [[pix1X, pixOrigin1X, pixEnds1X, pixMid1X], [pix1Y, pixOrigin1Y, pixEnds1Y, pixMid1Y],
        [pix1U, pixOrigin1U, pixEnds1U, pixMid1U], [pix1V, pixOrigin1V, pixEnds1V, pixMid1V]][i];
    drawPixels(panelLefts[i], name, pixelEffs[i], maps);
});

function rowsToCells(rows, origin, bin) {
    var cells = [];
    rows.forEach(function (row, r) {
        row.split("").forEach(function (ch, c) {
            if (ch !== " ") cells.push({u: origin[0] + c * bin, v: origin[1] - r * bin, ch: ch});
        });
    });
    return cells;
}

// join "left|right" rows into whole rows, the middle entries fill the gap
function joinRows(rows, ends, mids) {
    return rows.map(function (row, r) {
        var parts = row.split("|");
        if (parts.length < 2) return row;
        var last = ends.filter(function (e) { return e[0] <= r; }).pop()[1];
        var gap = last + 1 - parts[0].length - parts[1].length;
        if (gap < 0) return parts[0].slice(0, last + 1 - parts[1].length) + parts[1];
        var mid = ((mids[r] || "") + ".".repeat(gap)).slice(0, gap);
        return parts[0] + mid + parts[1];
    });
}

function fillOf(ch) {
    return ch === "w" ? "#fff" : colour(cellValues[ch]);
}

function drawCells(g, cells, x, y, bin) {
    g.append("g").attr("shape-rendering", "crispEdges").selectAll("rect").data(cells).enter().append("rect")
        .attr("x", function (d) { return x(d.u); })
        .attr("y", function (d) { return y(d.v); })
        .attr("width", x(bin) - x(0))
        .attr("height", y(0) - y(bin))
        .attr("fill", function (d) { return fillOf(d.ch); });
}

function drawStrips(left, name, eff, maps) {
    var bin = 0.2, speckSize = 0.3;
    var g = svg.append("g").attr("transform", "translate(" + left + "," + stripTop + ")");
    var x = d3.scaleLinear().domain([-20, 20]).range([0, plotWidth]);
    var y = d3.scaleLinear().domain([-20, 20]).range([plotHeight, 0]);

    g.append("rect").attr("x", x(-20)).attr("y", y(20)).attr("width", x(20) - x(-20)).attr("height", y(-20) - y(20))
        .attr("fill", colour(cellValues["."]));

    // mean level underlay, softened so the 2 cm squares do not show
    var zoneOpacity = [0, 0.28, 0.5];
    var zoneCells = [];
    maps[0].forEach(function (row, r) {
        row.split("").forEach(function (ch, c) {
            if (ch !== "0") zoneCells.push({u: -20 + c * 2, v: 20 - r * 2, level: +ch});
        });
    });
    g.append("g").attr("clip-path", "url(#plotClip)").append("g").attr("filter", "url(#soft)")
        .selectAll("rect").data(zoneCells).enter().append("rect")
        .attr("x", function (d) { return x(d.u); })
        .attr("y", function (d) { return y(d.v); })
        .attr("width", x(2) - x(0))
        .attr("height", y(0) - y(2))
        .attr("fill", colour(cellValues.r))
        .attr("opacity", function (d) { return zoneOpacity[d.level]; });

    g.append("g").selectAll("line").data(maps[1]).enter().append("line")
        .attr("x1", function (d) { return x(d[0]); })
        .attr("x2", function (d) { return x(d[0]); })
        .attr("y1", function (d) { return y(d[1]); })
        .attr("y2", function (d) { return y(d[2]); })
        .attr("stroke-width", 1.7)
        .attr("stroke-dasharray", "3 2.5")
        .attr("stroke", function (d) { return fillOf(d[3]); });

    var specks = maps[2].split(" ").map(function (t) {
        var p = t.slice(1).split(",");
        return {ch: t[0], u: -20 + p[0] * bin, v: -20 + (+p[1] + 1) * bin};
    });
    drawCells(g, specks, x, y, speckSize);
    drawCells(g, rowsToCells(maps[3], maps[4], bin), x, y, bin);

    finishPanel(g, x, y, d3.range(-20, 21, 5), d3.range(-20, 21, 1), name, eff,
        "V vs U of strip efficiency with noise correction", 542 - stripTop);
}

function drawPixels(left, name, eff, maps) {
    var bin = 0.1;
    var g = svg.append("g").attr("transform", "translate(" + left + "," + pixelTop + ")");
    var x = d3.scaleLinear().domain([-5, 5]).range([0, plotWidth]);
    var y = d3.scaleLinear().domain([-5, 5]).range([plotHeight, 0]);

    drawCells(g, rowsToCells(joinRows(maps[0], maps[2], maps[3]), maps[1], bin), x, y, bin);

    finishPanel(g, x, y, d3.range(-5, 6, 1), d3.range(-5, 5.01, 0.2), name, eff,
        "V vs U of pix efficiency with noise correction", 1128 - pixelTop);
}

function finishPanel(g, x, y, majors, minors, name, eff, title, xLabelY) {
    var ink = "#333";

    g.append("rect").attr("width", plotWidth).attr("height", plotHeight)
        .attr("fill", "none").attr("stroke", ink).attr("stroke-width", 1.3);

    var xMinor = d3.axisBottom(x).tickValues(minors).tickSize(-6).tickFormat("");
    var xMajor = d3.axisBottom(x).tickValues(majors).tickSize(-13).tickPadding(9);
    var yMinor = d3.axisLeft(y).tickValues(minors).tickSize(-5).tickFormat("");
    var yMajor = d3.axisLeft(y).tickValues(majors).tickSize(-10).tickPadding(2);

    [[xMinor, true], [xMajor, true], [yMinor, false], [yMajor, false]].forEach(function (a) {
        var ax = g.append("g").call(a[0]);
        if (a[1]) ax.attr("transform", "translate(0," + plotHeight + ")");
        ax.select(".domain").remove();
        ax.selectAll("line").attr("stroke", ink).attr("stroke-width", 1.1);
        ax.selectAll("text").attr("fill", "#444").style("font-size", "12px")
            .style("font-family", '"Liberation Sans", Arial, sans-serif');
    });

    g.append("text").attr("x", plotWidth).attr("y", xLabelY).attr("text-anchor", "end")
        .attr("font-size", 12).attr("fill", "#444").text("U(cm)");
    g.append("text").attr("transform", "translate(-20,0) rotate(-90)").attr("text-anchor", "end")
        .attr("font-size", 12).attr("fill", "#444").text("V(cm)");

    g.append("text").attr("x", 164).attr("y", -35).attr("text-anchor", "middle")
        .attr("font-size", 13.6).attr("fill", "#222").text(title);

    g.append("text").attr("x", 82).attr("y", 56).attr("font-size", 38.8).attr("font-weight", "bold")
        .attr("fill", "#000").text(name);
    g.append("text").attr("x", 82).attr("y", 422).attr("font-size", 38.8).attr("font-weight", "bold")
        .attr("fill", "#000").text(eff);

    // colour bar
    var barLeft = plotWidth + 2, barWidth = 20;
    var z = d3.scaleLinear().domain([0.4, 1]).range([plotHeight, 0]);
    var bar = g.append("g").attr("transform", "translate(" + barLeft + ",0)");
    bar.selectAll("rect").data(paletteColours).enter().append("rect")
        .attr("y", function (d) { return z(colour.invertExtent(d)[1]); })
        .attr("width", barWidth)
        .attr("height", function (d) { return z(colour.invertExtent(d)[0]) - z(colour.invertExtent(d)[1]); })
        .attr("fill", function (d) { return d; });
    var barAxis = bar.append("g").attr("transform", "translate(" + barWidth + ",0)")
        .call(d3.axisRight(z).tickValues(barTicks).tickSize(-9).tickPadding(2).tickFormat(d3.format("")));
    barAxis.select(".domain").attr("stroke", ink);
    barAxis.selectAll("line").attr("stroke", ink);
    barAxis.selectAll("text").attr("fill", "#444").style("font-size", "12px")
        .style("font-family", '"Liberation Sans", Arial, sans-serif');
    bar.append("rect").attr("width", barWidth).attr("height", plotHeight)
        .attr("fill", "none").attr("stroke", ink).attr("stroke-width", 0.8);
}

</script>
</body>
</html>
